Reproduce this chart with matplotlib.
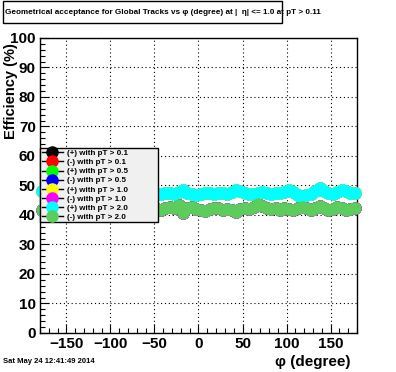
import matplotlib
matplotlib.use('Agg')
import matplotlib.pyplot as plt
import numpy as np
from matplotlib.lines import Line2D
from matplotlib.patches import Rectangle

plt.rcParams['font.family'] = ['Liberation Sans', 'DejaVu Sans']
plt.rcParams['font.weight'] = 'bold'

# phi bin centres (degree)
phi = np.arange(-177.5, 180, 5.0)

# efficiency (%) for positive tracks, pT > 2.0 (cyan band)
eff_pos = [48.1, 47.6, 47.3, 47.8, 47.5, 47.2, 47.6, 48.0, 47.4, 47.1,
           47.5, 47.9, 47.3, 47.0, 47.4, 47.7, 47.2, 47.6, 48.1, 47.5,
           47.2, 47.4, 47.8, 47.3, 47.0, 47.4,
           47.2, 47.0, 47.3, 47.6, 47.2, 47.8, 48.3, 47.6, 47.0, 46.9,
           47.1, 47.5, 47.3, 47.0, 47.4, 47.6, 47.2, 47.7, 48.3, 48.0,
           47.3, 47.0, 47.2, 47.4, 47.9, 47.5, 47.0, 47.3, 47.6, 47.9,
           48.5, 47.7, 46.6, 46.4, 46.7, 47.1, 48.2, 49.0, 48.1, 47.3,
           47.2, 47.8, 48.6, 48.2, 47.4, 47.6]

# efficiency (%) for negative tracks, pT > 2.0 (light green band)
eff_neg = [41.7, 42.0, 42.3, 41.9, 42.1, 42.4, 41.8, 42.0, 42.2, 41.7,
           42.1, 42.5, 42.0, 41.8, 42.3, 42.1, 41.9, 42.2, 42.6, 42.0,
           41.7, 42.1, 42.4, 42.0, 41.8, 42.2,
           42.0, 41.8, 42.3, 42.6, 42.2, 43.3, 40.6, 42.4, 42.8, 42.1,
           41.7, 41.3, 41.9, 42.5, 42.2, 41.8, 42.1, 41.6, 41.1, 41.9,
           42.4, 42.0, 42.6, 43.6, 43.0, 42.3, 41.9, 42.2, 41.8, 42.4,
           41.9, 41.6, 42.2, 42.7, 42.3, 41.8, 42.5, 42.9, 42.2, 41.7,
           41.9, 42.6, 42.3, 41.8, 42.0, 42.4]

labels = ['(+) with pT > 0.1', '(-) with pT > 0.1', '(+) with pT > 0.5', '(-) with pT > 0.5',
          '(+) with pT > 1.0', '(-) with pT > 1.0', '(+) with pT > 2.0', '(-) with pT > 2.0']
colors = ['black', 'red', '#00ff00', 'blue', 'yellow', 'magenta', 'cyan', '#5ccc5c']
series = [eff_pos, eff_neg] * 4

fig = plt.figure(figsize=(3.96, 3.72), dpi=100)
ax = fig.add_axes([0.101, 0.105, 0.8005, 0.793])

for vals, col in zip(series, colors):
    ax.plot(phi, vals, linestyle='none', marker='o', markersize=8,
            markerfacecolor=col, markeredgecolor=col, clip_on=False, zorder=3)

ax.set_xlim(-180, 180)
ax.set_ylim(0, 100)
ax.set_xticks(np.arange(-150, 151, 50))
ax.set_xticks(np.arange(-180, 181, 10), minor=True)
ax.set_yticks(np.arange(0, 101, 10))
ax.set_yticks(np.arange(0, 101, 2), minor=True)
ax.tick_params(which='both', direction='in', top=False, right=False, labelsize=11, pad=3)
ax.tick_params(which='major', length=6.5, width=0.8)
ax.tick_params(which='minor', length=3.3, width=0.8)
ax.grid(True, which='major', color='black', linestyle=(0, (1, 2.5)), linewidth=0.8)
for s in ax.spines.values():
    s.set_linewidth(1.0)

fig.text(0.028, 0.885, 'Efficiency (%)', rotation=90, ha='center', va='top',
         fontsize=10.5, fontweight='bold')
fig.text(0.886, 0.027, 'φ (degree)', ha='right', va='center', fontsize=11, fontweight='bold')
fig.text(0.008, 0.027, 'Sat May 24 12:41:49 2014', ha='left', va='center', fontsize=5.5, fontweight='bold')

# title box
fig.patches.append(Rectangle((0.008, 0.938), 0.705, 0.058, transform=fig.transFigure,
                             facecolor='white', edgecolor='black', linewidth=1.0))
fig.text(0.013, 0.967, 'Geometrical acceptance for Global Tracks vs φ (degree) at |  η| <= 1.0 at pT > 0.11',
         ha='left', va='center', fontsize=5.9, fontweight='bold')

handles = [Line2D([0], [0], color='black', linewidth=1.0, marker='o', markersize=8,
                  markerfacecolor=c, markeredgecolor=c) for c in colors]
leg = ax.legend(handles, labels, loc='upper left', bbox_to_anchor=(0.0, 0.627, 0.372, 0.0),
                mode='expand', fontsize=5.8, frameon=True, fancybox=False, framealpha=1.0,
                facecolor='#f0f0f0', edgecolor='black', handlelength=2.7,
                borderpad=0.2, labelspacing=0.18, handletextpad=0.45, borderaxespad=0)
leg.get_frame().set_linewidth(1.0)
for t in leg.get_texts():
    t.set_fontweight('bold')
leg.set_zorder(5)

fig.savefig('out.png', dpi=100)
